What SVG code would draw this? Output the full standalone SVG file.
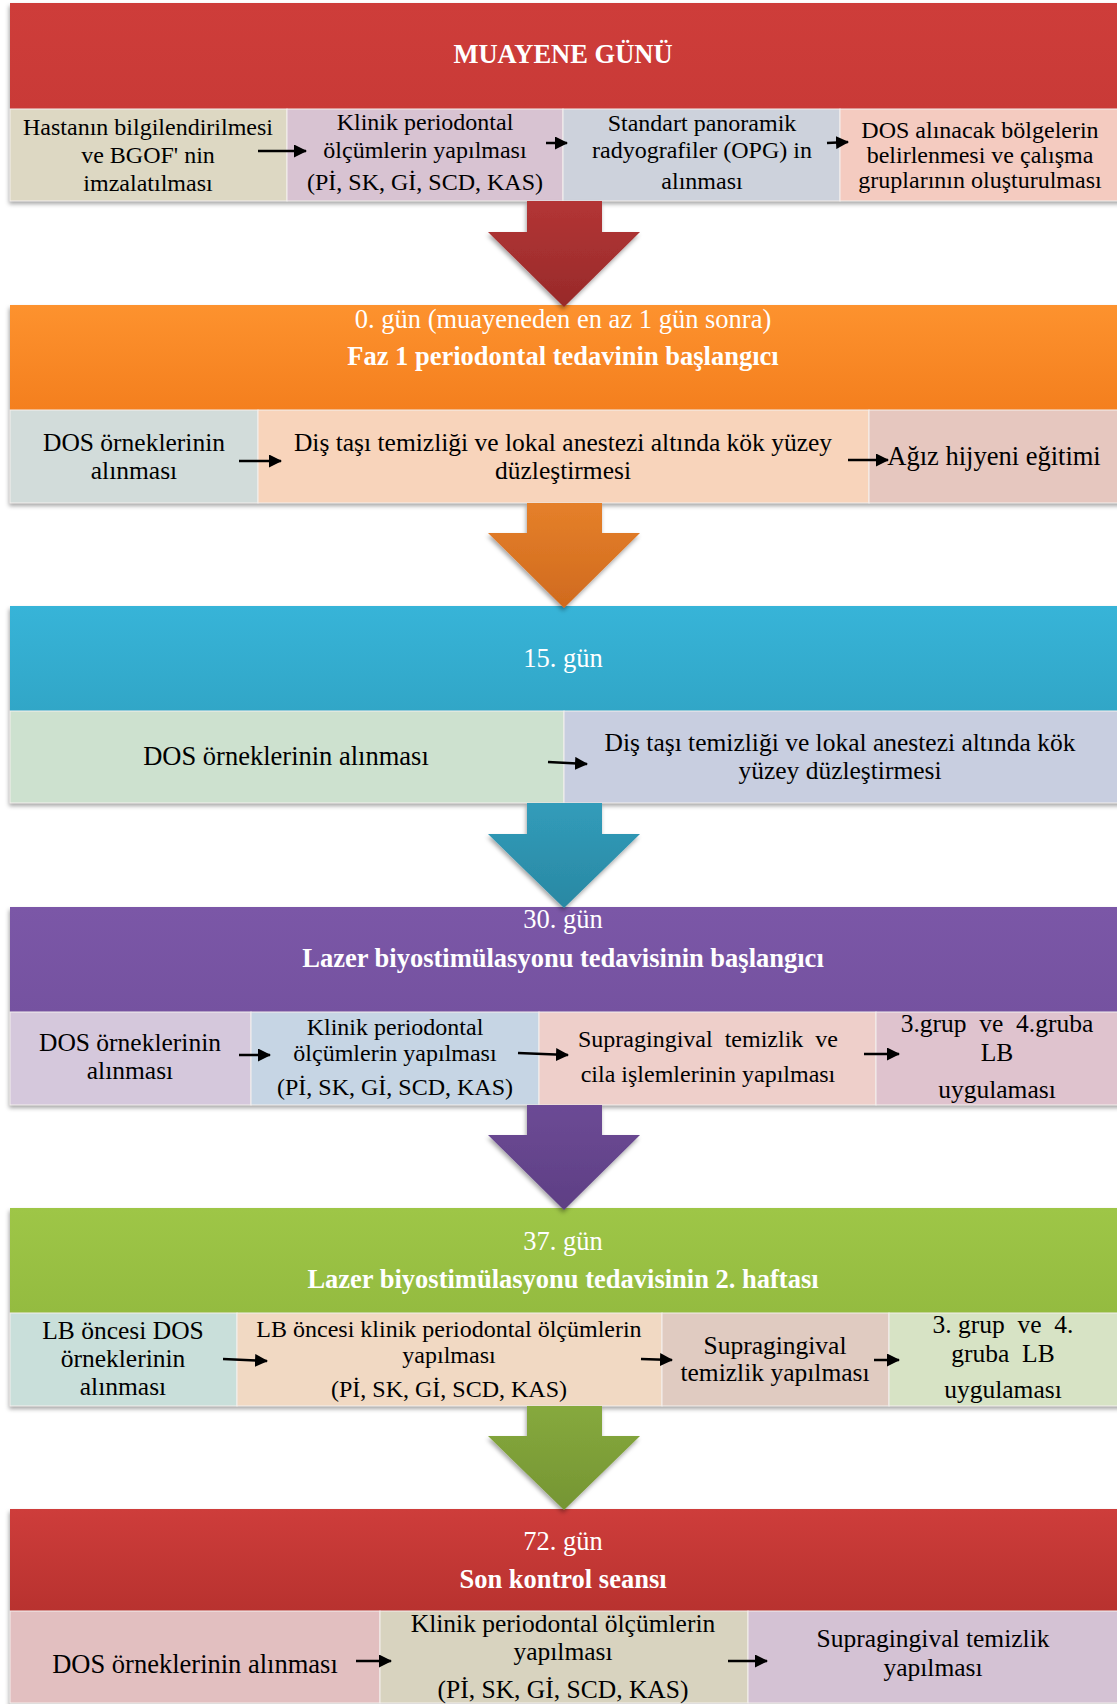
<svg xmlns="http://www.w3.org/2000/svg" width="1117" height="1704" viewBox="0 0 1117 1704">
<defs>
<style>
text{font-family:"Liberation Serif","Times New Roman",serif}
.hd{fill:#fff;text-anchor:middle;font-size:26.5px}
.hb{font-weight:bold}
.c{fill:#000;text-anchor:middle;font-size:26.5px}
.m{font-size:25.5px}
.s{font-size:24px}
.cell{stroke:#f4f0ee;stroke-width:1}
.sm line{stroke:#000;stroke-width:2.5;marker-end:url(#ah)}
.big path{filter:url(#sh)}
</style>
<marker id="ah" markerUnits="userSpaceOnUse" markerWidth="13" markerHeight="13" refX="12" refY="6.5" orient="auto"><path d="M0,0 L13,6.5 L0,13 Z" fill="#000"/></marker>
<filter id="sh" x="-5%" y="-10%" width="110%" height="130%"><feDropShadow dx="-1" dy="3" stdDeviation="2" flood-color="#000" flood-opacity="0.35"/></filter>
<linearGradient id="g1" x1="0" y1="0" x2="0" y2="1"><stop offset="0" stop-color="#ce3d3a"/><stop offset="1" stop-color="#c93a37"/></linearGradient>
<linearGradient id="g2" x1="0" y1="0" x2="0" y2="1"><stop offset="0" stop-color="#fd922e"/><stop offset="1" stop-color="#f47f1e"/></linearGradient>
<linearGradient id="g3" x1="0" y1="0" x2="0" y2="1"><stop offset="0" stop-color="#37b4d8"/><stop offset="1" stop-color="#31a6c7"/></linearGradient>
<linearGradient id="g4" x1="0" y1="0" x2="0" y2="1"><stop offset="0" stop-color="#7b57a7"/><stop offset="1" stop-color="#7552a0"/></linearGradient>
<linearGradient id="g5" x1="0" y1="0" x2="0" y2="1"><stop offset="0" stop-color="#9ec647"/><stop offset="1" stop-color="#94bb40"/></linearGradient>
<linearGradient id="g6" x1="0" y1="0" x2="0" y2="1"><stop offset="0" stop-color="#ce3d3b"/><stop offset="1" stop-color="#b8322f"/></linearGradient>
<linearGradient id="a1" x1="0" y1="0" x2="0" y2="1"><stop offset="0" stop-color="#b33535"/><stop offset="1" stop-color="#982a2a"/></linearGradient>
<linearGradient id="a2" x1="0" y1="0" x2="0" y2="1"><stop offset="0" stop-color="#e5802a"/><stop offset="1" stop-color="#d06a1e"/></linearGradient>
<linearGradient id="a3" x1="0" y1="0" x2="0" y2="1"><stop offset="0" stop-color="#319cba"/><stop offset="1" stop-color="#2a88a3"/></linearGradient>
<linearGradient id="a4" x1="0" y1="0" x2="0" y2="1"><stop offset="0" stop-color="#6c4a95"/><stop offset="1" stop-color="#5e3f84"/></linearGradient>
<linearGradient id="a5" x1="0" y1="0" x2="0" y2="1"><stop offset="0" stop-color="#86a93d"/><stop offset="1" stop-color="#759533"/></linearGradient>
</defs>
<rect width="1117" height="1704" fill="#fff"/>

<!-- shadows -->
<g filter="url(#sh)" fill="#ccc">
<rect x="10" y="3" width="1120" height="198"/>
<rect x="10" y="305" width="1120" height="198"/>
<rect x="10" y="606" width="1120" height="197"/>
<rect x="10" y="907" width="1120" height="198"/>
<rect x="10" y="1208" width="1120" height="198"/>
<rect x="10" y="1509" width="1120" height="200"/>
</g>

<!-- Row 1 -->
<g id="h1"><rect x="10" y="3" width="1120" height="106" fill="url(#g1)"/>
<text class="hd hb" x="563" y="63">MUAYENE GÜNÜ</text></g>
<g id="r1c1"><rect class="cell" x="10" y="109" width="277" height="92" fill="#ddd8c3"/>
<text class="c s" x="148" y="135">Hastanın bilgilendirilmesi</text><text class="c s" x="148" y="163">ve BGOF' nin</text><text class="c s" x="148" y="191">imzalatılması</text></g>
<g id="r1c2"><rect class="cell" x="287" y="109" width="276" height="92" fill="#d8c3d2"/>
<text class="c s" x="425" y="130">Klinik periodontal</text><text class="c s" x="425" y="158">ölçümlerin yapılması</text><text class="c s" x="425" y="190">(Pİ, SK, Gİ, SCD, KAS)</text></g>
<g id="r1c3"><rect class="cell" x="563" y="109" width="277" height="92" fill="#cdd2dc"/>
<text class="c s" x="702" y="131">Standart panoramik</text><text class="c s" x="702" y="158">radyografiler (OPG) in</text><text class="c s" x="702" y="189">alınması</text></g>
<g id="r1c4"><rect class="cell" x="840" y="109" width="290" height="92" fill="#f4cbc0"/>
<text class="c s" x="980" y="138">DOS alınacak bölgelerin</text><text class="c s" x="980" y="163">belirlenmesi ve çalışma</text><text class="c s" x="980" y="188">gruplarının oluşturulması</text></g>

<!-- Row 2 -->
<g id="h2"><rect x="10" y="305" width="1120" height="105" fill="url(#g2)"/>
<text class="hd" x="563" y="328">0. gün (muayeneden en az 1 gün sonra)</text>
<text class="hd hb" x="563" y="365">Faz 1 periodontal tedavinin başlangıcı</text></g>
<g id="r2c1"><rect class="cell" x="10" y="410" width="248" height="93" fill="#d2dcda"/>
<text class="c m" x="134" y="451">DOS örneklerinin</text><text class="c m" x="134" y="479">alınması</text></g>
<g id="r2c2"><rect class="cell" x="258" y="410" width="611" height="93" fill="#f8d4bb"/>
<text class="c m" x="563" y="451">Diş taşı temizliği ve lokal anestezi altında kök yüzey</text><text class="c m" x="563" y="479">düzleştirmesi</text></g>
<g id="r2c3"><rect class="cell" x="869" y="410" width="261" height="93" fill="#e6c7bf"/>
<text class="c" x="994" y="465">Ağız hijyeni eğitimi</text></g>

<!-- Row 3 -->
<g id="h3"><rect x="10" y="606" width="1120" height="105" fill="url(#g3)"/>
<text class="hd" x="563" y="667">15. gün</text></g>
<g id="r3c1"><rect class="cell" x="10" y="711" width="554" height="92" fill="#cde1cf"/>
<text class="c" x="286" y="765">DOS örneklerinin alınması</text></g>
<g id="r3c2"><rect class="cell" x="564" y="711" width="566" height="92" fill="#c8cee0"/>
<text class="c m" x="840" y="751">Diş taşı temizliği ve lokal anestezi altında kök</text><text class="c m" x="840" y="779">yüzey düzleştirmesi</text></g>

<!-- Row 4 -->
<g id="h4"><rect x="10" y="907" width="1120" height="105" fill="url(#g4)"/>
<text class="hd" x="563" y="928">30. gün</text>
<text class="hd hb" x="563" y="967">Lazer biyostimülasyonu tedavisinin başlangıcı</text></g>
<g id="r4c1"><rect class="cell" x="10" y="1012" width="241" height="93" fill="#d5c8dc"/>
<text class="c m" x="130" y="1051">DOS örneklerinin</text><text class="c m" x="130" y="1079">alınması</text></g>
<g id="r4c2"><rect class="cell" x="251" y="1012" width="288" height="93" fill="#c6d5e4"/>
<text class="c s" x="395" y="1035">Klinik periodontal</text><text class="c s" x="395" y="1061">ölçümlerin yapılması</text><text class="c s" x="395" y="1095">(Pİ, SK, Gİ, SCD, KAS)</text></g>
<g id="r4c3"><rect class="cell" x="539" y="1012" width="337" height="93" fill="#eecfca"/>
<text class="c s" x="708" y="1047" xml:space="preserve">Supragingival  temizlik  ve</text><text class="c s" x="708" y="1082">cila işlemlerinin yapılması</text></g>
<g id="r4c4"><rect class="cell" x="876" y="1012" width="254" height="93" fill="#dfc3ce"/>
<text class="c m" x="997" y="1032" xml:space="preserve">3.grup  ve  4.gruba</text><text class="c m" x="997" y="1061">LB</text><text class="c m" x="997" y="1098">uygulaması</text></g>

<!-- Row 5 -->
<g id="h5"><rect x="10" y="1208" width="1120" height="105" fill="url(#g5)"/>
<text class="hd" x="563" y="1250">37. gün</text>
<text class="hd hb" x="563" y="1288">Lazer biyostimülasyonu tedavisinin 2. haftası</text></g>
<g id="r5c1"><rect class="cell" x="10" y="1313" width="227" height="93" fill="#c9dfda"/>
<text class="c m" x="123" y="1339">LB öncesi DOS</text><text class="c m" x="123" y="1367">örneklerinin</text><text class="c m" x="123" y="1395">alınması</text></g>
<g id="r5c2"><rect class="cell" x="237" y="1313" width="425" height="93" fill="#f1d9c3"/>
<text class="c s" x="449" y="1337">LB öncesi klinik periodontal ölçümlerin</text><text class="c s" x="449" y="1363">yapılması</text><text class="c s" x="449" y="1397">(Pİ, SK, Gİ, SCD, KAS)</text></g>
<g id="r5c3"><rect class="cell" x="662" y="1313" width="227" height="93" fill="#e0cbc1"/>
<text class="c m" x="775" y="1354">Supragingival</text><text class="c m" x="775" y="1381">temizlik yapılması</text></g>
<g id="r5c4"><rect class="cell" x="889" y="1313" width="241" height="93" fill="#d7e3c5"/>
<text class="c m" x="1003" y="1333" xml:space="preserve">3. grup  ve  4.</text><text class="c m" x="1003" y="1362" xml:space="preserve">gruba  LB</text><text class="c m" x="1003" y="1398">uygulaması</text></g>

<!-- Row 6 -->
<g id="h6"><rect x="10" y="1509" width="1120" height="102" fill="url(#g6)"/>
<text class="hd" x="563" y="1550">72. gün</text>
<text class="hd hb" x="563" y="1588">Son kontrol seansı</text></g>
<g id="r6c1"><rect class="cell" x="10" y="1611" width="370" height="92" fill="#e2bfc0"/>
<text class="c" x="195" y="1673">DOS örneklerinin alınması</text></g>
<g id="r6c2"><rect class="cell" x="380" y="1611" width="368" height="92" fill="#d8d3bf"/>
<text class="c m" x="563" y="1632">Klinik periodontal ölçümlerin</text><text class="c m" x="563" y="1660">yapılması</text><text class="c m" x="563" y="1698">(Pİ, SK, Gİ, SCD, KAS)</text></g>
<g id="r6c3"><rect class="cell" x="748" y="1611" width="382" height="92" fill="#d4c2d4"/>
<text class="c m" x="933" y="1647">Supragingival temizlik</text><text class="c m" x="933" y="1676">yapılması</text></g>

<!-- connectors -->
<g id="connectors">
<g class="big">
<path d="M527,201 L602,201 L602,232 L640,232 L564,307 L488,232 L527,232 Z" fill="url(#a1)"/>
<path d="M527,503 L602,503 L602,533 L640,533 L564,608 L488,533 L527,533 Z" fill="url(#a2)"/>
<path d="M527,803 L602,803 L602,834 L640,834 L564,908 L488,834 L527,834 Z" fill="url(#a3)"/>
<path d="M527,1105 L602,1105 L602,1135 L640,1135 L564,1210 L488,1135 L527,1135 Z" fill="url(#a4)"/>
<path d="M527,1406 L602,1406 L602,1436 L640,1436 L564,1510 L488,1436 L527,1436 Z" fill="url(#a5)"/>
</g>
<g class="sm">
<line x1="258" y1="151" x2="306" y2="151"/>
<line x1="546" y1="143" x2="567" y2="143"/>
<line x1="827" y1="143" x2="848" y2="142"/>
<line x1="239" y1="461" x2="281" y2="461"/>
<line x1="848" y1="460" x2="888" y2="460"/>
<line x1="548" y1="762" x2="587" y2="764"/>
<line x1="239" y1="1055" x2="270" y2="1055"/>
<line x1="518" y1="1053" x2="568" y2="1055"/>
<line x1="864" y1="1054" x2="899" y2="1054"/>
<line x1="223" y1="1359" x2="267" y2="1361"/>
<line x1="641" y1="1359" x2="672" y2="1360"/>
<line x1="874" y1="1360" x2="899" y2="1360"/>
<line x1="356" y1="1661" x2="391" y2="1661"/>
<line x1="728" y1="1661" x2="767" y2="1661"/>
</g>
</g>
</svg>
